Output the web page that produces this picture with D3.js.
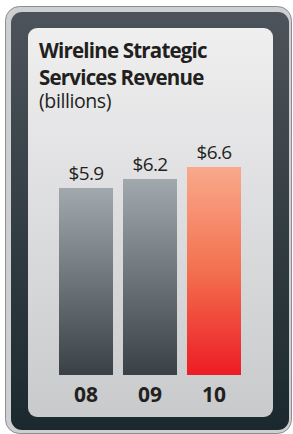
<!DOCTYPE html>
<html>
<head>
<meta charset="utf-8">
<script src="https://cdn.jsdelivr.net/npm/d3@7"></script>
<style>
  html, body { margin: 0; padding: 0; background: #fff; }
  svg { display: block; }
</style>
</head>
<body>
<svg id="chart" width="293" height="434"></svg>
<script>
const years = ["08", "09", "10"]
const revenue = [5.9, 6.2, 6.6]
const labels = ["$5.9", "$6.2", "$6.6"]
const titleLines = ["Wireline Strategic", "Services Revenue"]
const subtitle = "(billions)"

const svg = d3.select("#chart")
const defs = svg.append("defs")

function grad(id, stops) {
  const g = defs.append("linearGradient").attr("id", id)
    .attr("x1", 0).attr("y1", 0).attr("x2", 0).attr("y2", 1)
  stops.forEach(([o, c]) => g.append("stop").attr("offset", o).attr("stop-color", c))
}
grad("frame", [[0, "#4d535b"], [1, "#1b292e"]])
grad("panel", [[0, "#efeff0"], [1, "#c9cacc"]])
grad("grayBar", [[0, "#a1a8ae"], [1, "#394147"]])
grad("redBar", [[0, "#f9a98b"], [0.5, "#f3704f"], [1, "#ed1c24"]])

// frame
svg.append("rect").attr("x", 5.5).attr("y", 6.5).attr("width", 286).attr("height", 427)
  .attr("rx", 14).attr("fill", "#cdcfd1").attr("stroke", "#8a8e92").attr("stroke-width", 1)
svg.append("rect").attr("x", 11).attr("y", 12).attr("width", 278).attr("height", 418)
  .attr("rx", 11).attr("fill", "url(#frame)")
svg.append("rect").attr("x", 28).attr("y", 28).attr("width", 245).attr("height", 389)
  .attr("rx", 9).attr("fill", "url(#panel)")

// title
const title = svg.append("text").attr("x", 39).attr("fill", "#231f20")
  .style("font-family", "'Open Sans', sans-serif")
title.selectAll("tspan.t").data(titleLines).join("tspan").attr("class", "t")
  .attr("x", 39).attr("y", (d, i) => 58 + i * 27)
  .style("font-weight", "bold").style("font-size", "20.5px").style("letter-spacing", "-0.8px")
  .text(d => d)
title.append("tspan").attr("x", 39).attr("y", 108)
  .style("font-size", "19.5px").style("letter-spacing", "-0.4px").text(subtitle)

// scales
const x = d3.scaleBand().domain(years).range([59, 241]).paddingInner(0.156).paddingOuter(0)
const y = d3.scaleLinear().domain([-0.35, 6.6]).range([375, 167])

svg.selectAll("rect.bar").data(revenue).join("rect").attr("class", "bar")
  .attr("x", (d, i) => x(years[i]))
  .attr("y", d => y(d))
  .attr("width", x.bandwidth())
  .attr("height", d => y(-0.35) - y(d))
  .attr("fill", (d, i) => i === 2 ? "url(#redBar)" : "url(#grayBar)")

svg.selectAll("text.val").data(revenue).join("text").attr("class", "val")
  .attr("x", (d, i) => x(years[i]) + x.bandwidth() / 2)
  .attr("y", d => y(d) - 8)
  .attr("text-anchor", "middle")
  .attr("fill", "#231f20")
  .style("font-family", "'Open Sans', sans-serif")
  .style("font-size", "19px").style("letter-spacing", "-0.6px")
  .text((d, i) => labels[i])

const xAxis = svg.append("g").attr("transform", "translate(0,375)")
  .call(d3.axisBottom(x).tickSize(0).tickPadding(0))
xAxis.select(".domain").remove()
xAxis.selectAll("text").attr("dy", 0).attr("y", 27)
  .attr("fill", "#231f20")
  .style("font-family", "'Open Sans', sans-serif")
  .style("font-weight", "bold").style("font-size", "21px")
</script>
</body>
</html>
